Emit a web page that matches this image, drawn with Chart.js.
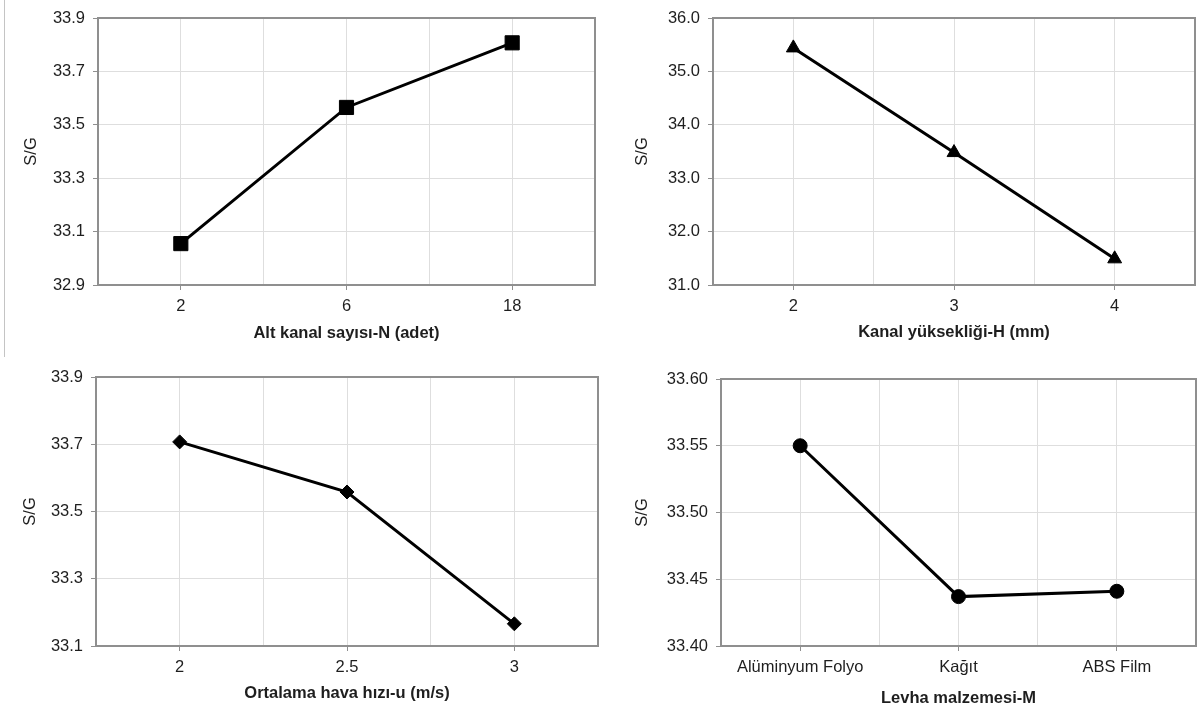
<!DOCTYPE html>
<html>
<head>
<meta charset="utf-8">
<script src="https://cdn.jsdelivr.net/npm/chart.js@4"></script>
<style>
  body { margin: 0; background: #fff; width: 1204px; height: 715px; position: relative; overflow: hidden; }
  .box { position: absolute; }
  .frame { position: absolute; left: 4px; top: 0; width: 0; height: 357px; border-left: 1px solid #c4c4c4; }
</style>
</head>
<body>
<div class="frame"></div>
<div class="box" id="b1"><canvas id="c1"></canvas></div>
<div class="box" id="b2"><canvas id="c2"></canvas></div>
<div class="box" id="b3"><canvas id="c3"></canvas></div>
<div class="box" id="b4"><canvas id="c4"></canvas></div>
<script>
// panel 1: alt kanal sayisi
const channelCats = ['2', '6', '18'];
const channelSG = [33.055, 33.565, 33.807];
const channelTicks = [32.9, 33.9, 0.2];

// panel 2: kanal yuksekligi
const heightCats = ['2', '3', '4'];
const heightSG = [35.44, 33.48, 31.49];
const heightTicks = [31.0, 36.0, 1.0];

// panel 3: hava hizi
const speedCats = ['2', '2.5', '3'];
const speedSG = [33.707, 33.558, 33.166];
const speedTicks = [33.1, 33.9, 0.2];

// panel 4: levha malzemesi
const materialCats = ['Alüminyum Folyo', 'Kağıt', 'ABS Film'];
const materialSG = [33.55, 33.437, 33.441];
const materialTicks = [33.40, 33.60, 0.05];

const FONT = "'Liberation Sans', Arial, sans-serif";
const FS = 16.5;
const AXIS = '#8f8f8f';
const GRID = '#dedede';
const TXT = '#1e1e1e';

const boxBorder = {
  id: 'boxBorder',
  afterDraw(chart) {
    const a = chart.chartArea, ctx = chart.ctx;
    ctx.save();
    ctx.strokeStyle = AXIS;
    ctx.lineWidth = 2;
    ctx.strokeRect(a.left, a.top, a.right - a.left, a.bottom - a.top);
    ctx.restore();
  }
};

function makeChart(n, cats, vals, ticks, decimals, marker, radius, box, area, yTitleX, xTitleY, xTitle) {
  const div = document.getElementById('b' + n);
  div.style.left = box.x + 'px';
  div.style.top = box.y + 'px';
  div.style.width = box.w + 'px';
  div.style.height = box.h + 'px';

  const half = FS * 0.6;
  const padLeft = yTitleX - box.x - half;
  const yWidth = area.l - box.x - padLeft;
  const xBottom = xTitleY + half;
  const xHeight = xBottom - area.b;

  new Chart(document.getElementById('c' + n), {
    type: 'line',
    data: {
      datasets: [{
        data: cats.map((c, i) => ({ x: i + 0.5, y: vals[i] })),
        borderColor: '#000',
        borderWidth: 3,
        pointStyle: marker,
        pointRadius: radius,
        pointBackgroundColor: '#000',
        pointBorderColor: '#000',
        pointBorderWidth: 1,
        tension: 0
      }]
    },
    options: {
      responsive: true,
      maintainAspectRatio: false,
      animation: false,
      layout: { padding: { left: padLeft, top: area.t - box.y, right: box.x + box.w - area.r, bottom: box.y + box.h - xBottom } },
      plugins: { legend: { display: false }, tooltip: { enabled: false } },
      scales: {
        x: {
          type: 'linear',
          min: 0,
          max: 3,
          afterFit(s) { s.height = xHeight; },
          border: { display: false },
          grid: {
            color: GRID,
            lineWidth: 1,
            tickLength: 5,
            tickColor: ctx => (ctx.tick && (ctx.tick.value % 1) === 0.5) ? AXIS : 'rgba(0,0,0,0)'
          },
          ticks: {
            stepSize: 0.5,
            autoSkip: false,
            maxRotation: 0,
            padding: 7,
            color: TXT,
            font: { family: FONT, size: FS },
            callback: v => (v % 1 === 0.5) ? cats[v - 0.5] : ''
          },
          title: { display: true, text: xTitle, color: TXT, padding: 0, font: { family: FONT, size: FS, weight: 'bold', lineHeight: 1.2 } }
        },
        y: {
          min: ticks[0],
          max: ticks[1],
          afterFit(s) { s.width = yWidth; },
          border: { display: false },
          grid: { color: GRID, lineWidth: 1, tickLength: 5, tickColor: AXIS },
          ticks: {
            stepSize: ticks[2],
            padding: 8,
            color: TXT,
            font: { family: FONT, size: FS },
            callback: v => v.toFixed(decimals)
          },
          title: { display: true, text: 'S/G', color: TXT, padding: 0, font: { family: FONT, size: FS, lineHeight: 1.2 } }
        }
      }
    },
    plugins: [boxBorder]
  });
}

makeChart(1, channelCats, channelSG, channelTicks, 1, 'rect', 10,
  { x: 0, y: 0, w: 606, h: 357 }, { l: 98, t: 18, r: 603, b: 285 }, 31, 333, 'Alt kanal sayısı-N (adet)');
makeChart(2, heightCats, heightSG, heightTicks, 1, 'triangle', 8,
  { x: 606, y: 0, w: 598, h: 357 }, { l: 713, t: 18, r: 1202, b: 285 }, 642, 332, 'Kanal yüksekliği-H (mm)');
makeChart(3, speedCats, speedSG, speedTicks, 1, 'rectRot', 7,
  { x: 0, y: 357, w: 606, h: 358 }, { l: 96, t: 377, r: 603, b: 646 }, 30, 693, 'Ortalama hava hızı-u (m/s)');
makeChart(4, materialCats, materialSG, materialTicks, 2, 'circle', 7,
  { x: 606, y: 357, w: 598, h: 358 }, { l: 721, t: 379, r: 1202, b: 646 }, 642, 698, 'Levha malzemesi-M');
</script>
</body>
</html>
